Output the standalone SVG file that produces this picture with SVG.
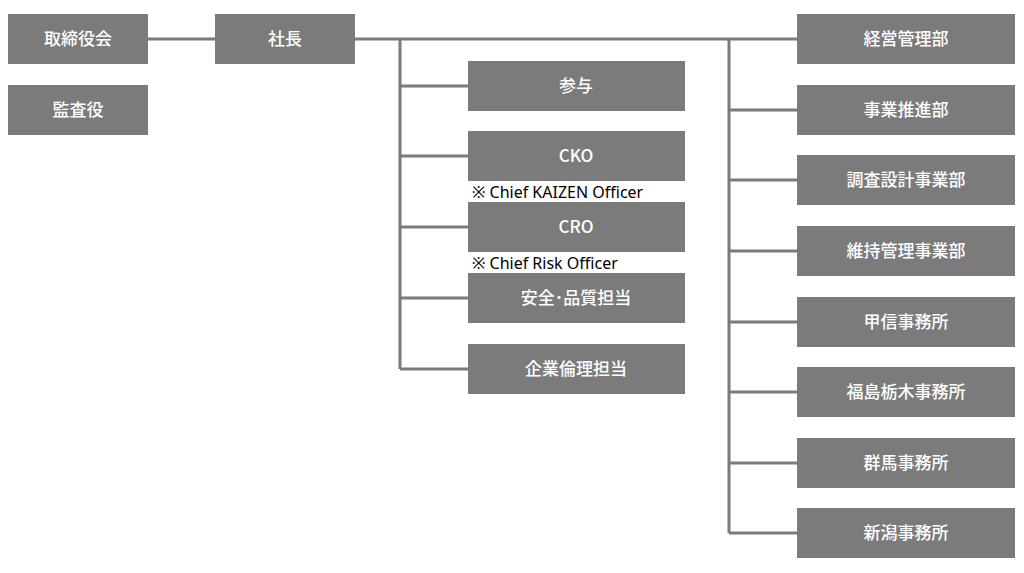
<svg xmlns="http://www.w3.org/2000/svg" width="1024" height="573" viewBox="0 0 1024 573">
<style>
.b{fill:#7b7b7b}
.t{fill:#fff;font-family:"Noto Sans CJK JP","Noto Sans",sans-serif;font-size:17px;font-weight:500;text-anchor:middle;dominant-baseline:central}
.n{fill:#000;font-family:"Noto Sans","Noto Sans CJK JP",sans-serif;font-size:16px}
.c{stroke:#7b7b7b;stroke-width:3;fill:none}
</style>
<rect width="1024" height="573" fill="#fff"/>
<g id="connectors" class="c">
<path d="M148 39H215M355 39H797"/>
<path d="M400 39V369M400 86H468M400 156H468M400 227H468M400 298H468M400 369H468"/>
<path d="M729 39V533M729 110H797M729 180H797M729 251H797M729 322H797M729 392H797M729 463H797M729 533H797"/>
</g>
<g id="n1"><rect class="b" x="8" y="14" width="140" height="50"/><text class="t" x="78" y="37">取締役会</text></g>
<g id="n2"><rect class="b" x="8" y="85" width="140" height="50"/><text class="t" x="78" y="108">監査役</text></g>
<g id="n3"><rect class="b" x="215" y="14" width="140" height="50"/><text class="t" x="285" y="37">社長</text></g>
<g id="m1"><rect class="b" x="468" y="61" width="217" height="50"/><text class="t" x="576" y="84">参与</text></g>
<g id="m2"><rect class="b" x="468" y="131" width="217" height="50"/><text class="t" x="576" y="154">CKO</text></g>
<g id="m3"><rect class="b" x="468" y="202" width="217" height="50"/><text class="t" x="576" y="225">CRO</text></g>
<g id="m4"><rect class="b" x="468" y="273" width="217" height="50"/><text class="t" x="576" y="296">安全･品質担当</text></g>
<g id="m5"><rect class="b" x="468" y="344" width="217" height="50"/><text class="t" x="576" y="367">企業倫理担当</text></g>
<text class="n" x="472" y="198">※ Chief KAIZEN Officer</text>
<text class="n" x="472" y="269">※ Chief Risk Officer</text>
<g id="r1"><rect class="b" x="797" y="14" width="218" height="50"/><text class="t" x="906" y="37">経営管理部</text></g>
<g id="r2"><rect class="b" x="797" y="85" width="218" height="50"/><text class="t" x="906" y="108">事業推進部</text></g>
<g id="r3"><rect class="b" x="797" y="155" width="218" height="50"/><text class="t" x="906" y="178">調査設計事業部</text></g>
<g id="r4"><rect class="b" x="797" y="226" width="218" height="50"/><text class="t" x="906" y="249">維持管理事業部</text></g>
<g id="r5"><rect class="b" x="797" y="297" width="218" height="50"/><text class="t" x="906" y="320">甲信事務所</text></g>
<g id="r6"><rect class="b" x="797" y="367" width="218" height="50"/><text class="t" x="906" y="390">福島栃木事務所</text></g>
<g id="r7"><rect class="b" x="797" y="438" width="218" height="50"/><text class="t" x="906" y="461">群馬事務所</text></g>
<g id="r8"><rect class="b" x="797" y="508" width="218" height="50"/><text class="t" x="906" y="531">新潟事務所</text></g>
</svg>
